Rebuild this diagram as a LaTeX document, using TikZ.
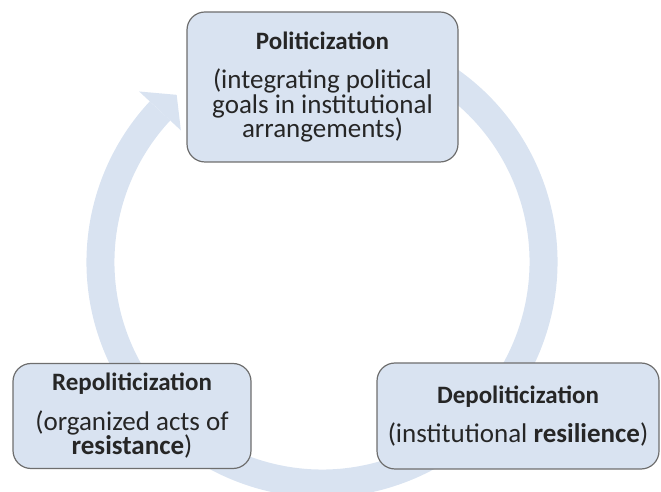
\documentclass[tikz,border=0pt]{standalone}
\usepackage{fontspec}
\setmainfont{Carlito}
\usepackage{xcolor}
\definecolor{d9e3f1}{HTML}{D9E3F1}
\definecolor{6e6e6e}{HTML}{6E6E6E}
\usepackage{tikz}

\newcommand{\phasename}[1]{{\fontsize{25}{24.5}\selectfont\textbf{#1}}}

\begin{document}
\begin{tikzpicture}[x=1pt, y=1pt,
        phase/.style={draw=6e6e6e, line width=1.2pt, fill=d9e3f1, rounded corners=18pt,
            align=center, text=black!85, font=\fontsize{27}{24.5}\selectfont, inner sep=0pt}]
            \useasboundingbox (0, 0) rectangle (661, 492);

            \coordinate (c) at (322, 230);

            \draw[d9e3f1, line width=28pt] ([shift={(75:221.5)}]c) arc (75:-223:221.5);
            \fill[d9e3f1] ([shift={(137:250)}]c) -- ([shift={(131:221.5)}]c) -- ([shift={(137:193)}]c) -- cycle; % arrow head

            \node[phase, minimum width=271pt, minimum height=150pt] (polit) at (322.5, 405)
                {\phasename{Politicization}\\[15pt] (integrating political\\ goals in institutional\\ arrangements)};
            \node[phase, minimum width=238pt, minimum height=105pt] (repolit) at (132, 76)
                {\phasename{Repoliticization}\\[15pt] (organized acts of\\ \textbf{resistance})};
            \node[phase, minimum width=282pt, minimum height=106pt] (depolit) at (518, 76)
                {\phasename{Depoliticization}\\[15pt] (institutional \textbf{resilience})};
        \end{tikzpicture}
\end{document}
